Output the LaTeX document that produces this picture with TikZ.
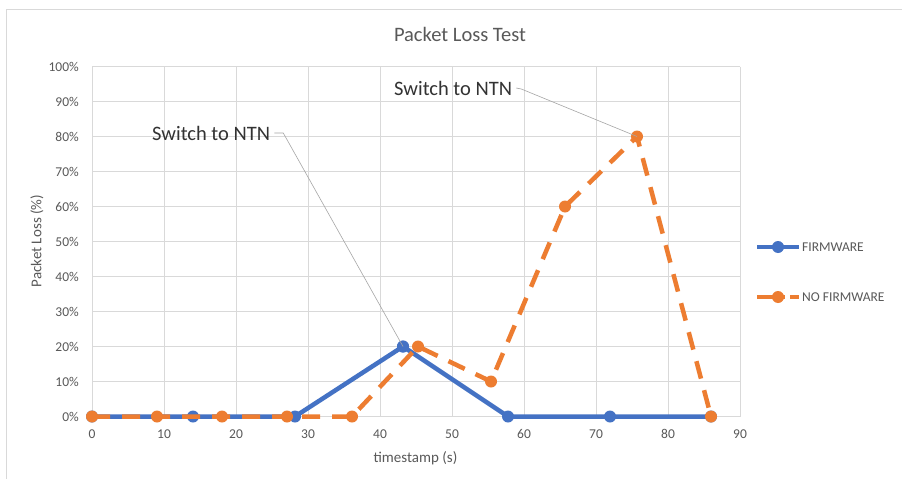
\documentclass[tikz,border=0pt]{standalone}
\usepackage{fontspec}
\setmainfont{Carlito}
\definecolor{serblue}{HTML}{4472C4}
\definecolor{serorange}{HTML}{ED7D31}
\definecolor{gridgray}{HTML}{D9D9D9}
\definecolor{txtgray}{HTML}{595959}
\definecolor{leadgray}{HTML}{A6A6A6}
\begin{document}
\begin{tikzpicture}[x=1pt,y=-1pt,
  gridline/.style={draw=gridgray, line width=0.9pt},
  ticklabel/.style={text=txtgray, font=\fontsize{13.5}{15}\selectfont, inner sep=0pt},
  axistitle/.style={text=txtgray, font=\fontsize{15}{17}\selectfont, inner sep=0pt},
  charttitle/.style={text=txtgray, font=\fontsize{20.5}{23}\selectfont, inner sep=0pt},
  annot/.style={text=black!80, font=\fontsize{20.5}{23}\selectfont, inner sep=0pt},
  legendtext/.style={text=txtgray, font=\fontsize{13.5}{15}\selectfont, inner sep=0pt, anchor=west},
  leader/.style={draw=leadgray, line width=0.6pt},
  fwline/.style={draw=serblue, line width=4.5pt, line join=round},
  nofwline/.style={draw=serorange, line width=4.5pt, dash pattern=on 18pt off 12pt},
  fwmark/.style={fill=serblue},
  nofwmark/.style={fill=serorange}]
\useasboundingbox (0,0) rectangle (902,479);
\fill[white] (0,0) rectangle (902,479);
% chart frame (top and left edges)
\draw[gridgray, line width=1pt] (6,479) -- (6,9) -- (902,9);

% title
\node[charttitle] (title) at (460,34) {Packet Loss Test};

% grid lines
\foreach \i in {0,...,9} \draw[gridline] ({92+72*\i},66.5) -- ({92+72*\i},416.5);
\foreach \j in {0,...,10} \draw[gridline] (92,{416.5-35*\j}) -- (740,{416.5-35*\j});

% axis tick labels
\foreach \j in {0,...,10} {
  \pgfmathtruncatemacro{\v}{10*\j}
  \node[ticklabel, anchor=east] (ytick\j) at (79,{416.5-35*\j}) {\v\%};
}
\foreach \i in {0,...,9} {
  \pgfmathtruncatemacro{\v}{10*\i}
  \node[ticklabel] (xtick\i) at ({92+72*\i},434) {\v};
}

% axis titles
\node[axistitle] (xtitle) at (415.5,458) {timestamp (s)};
\node[axistitle, rotate=90] (ytitle) at (37,241) {Packet Loss (\%)};

% FIRMWARE data
\coordinate (f1) at (92,416.5);
\coordinate (f2) at (193,416.5);
\coordinate (f3) at (295,416.5);
\coordinate (f4) at (403,346.5);
\coordinate (f5) at (508,416.5);
\coordinate (f6) at (610,416.5);
\coordinate (f7) at (711,416.5);
\draw[fwline] (f1) -- (f2) -- (f3) -- (f4) -- (f5) -- (f6) -- (f7);
\foreach \p in {f1,f2,f3,f4,f5,f6,f7} \fill[fwmark] (\p) circle (6);

% NO FIRMWARE data
\coordinate (n1) at (92,416.5);
\coordinate (n2) at (157,416.5);
\coordinate (n3) at (222,416.5);
\coordinate (n4) at (287,416.5);
\coordinate (n5) at (352,416.5);
\coordinate (n6) at (418,346.5);
\coordinate (n7) at (491,381.5);
\coordinate (n8) at (565,206.5);
\coordinate (n9) at (637,136.5);
\coordinate (n10) at (711,416.5);
\draw[nofwline] (n1) -- (n2) -- (n3) -- (n4) -- (n5) -- (n6) -- (n7) -- (n8) -- (n9) -- (n10);
\foreach \p in {n1,n2,n3,n4,n5,n6,n7,n8,n9,n10} \fill[nofwmark] (\p) circle (6);
\fill[fwmark] (f4) circle (6);

% data callouts
\node[annot, anchor=west] (call1) at (152,133) {Switch to NTN};
\draw[leader] ([xshift=4pt]call1.east) -- ([xshift=13pt]call1.east) -- (f4);
\node[annot, anchor=west] (call2) at (394,88) {Switch to NTN};
\draw[leader] ([xshift=4pt]call2.east) -- ([xshift=9pt,yshift=-1pt]call2.east) -- (n9);

% legend
\coordinate (lga) at (757,247);
\coordinate (lgm) at (778,247);
\coordinate (lgb) at (799,247);
\draw[draw=serblue, line width=4.5pt] (lga) -- (lgb);
\fill[fwmark] (lgm) circle (6);
\node[legendtext] (leg1) at (802,247) {FIRMWARE};

\coordinate (lgc) at (757,297);
\coordinate (lgn) at (778,297);
\coordinate (lgd) at (785,297);
\coordinate (lge) at (790,297);
\coordinate (lgf) at (799,297);
\draw[draw=serorange, line width=4.5pt] (lgc) -- (lgd);
\draw[draw=serorange, line width=4.5pt] (lge) -- (lgf);
\fill[nofwmark] (lgn) circle (6);
\node[legendtext] (leg2) at (802,297) {NO FIRMWARE};
\end{tikzpicture}
\end{document}
